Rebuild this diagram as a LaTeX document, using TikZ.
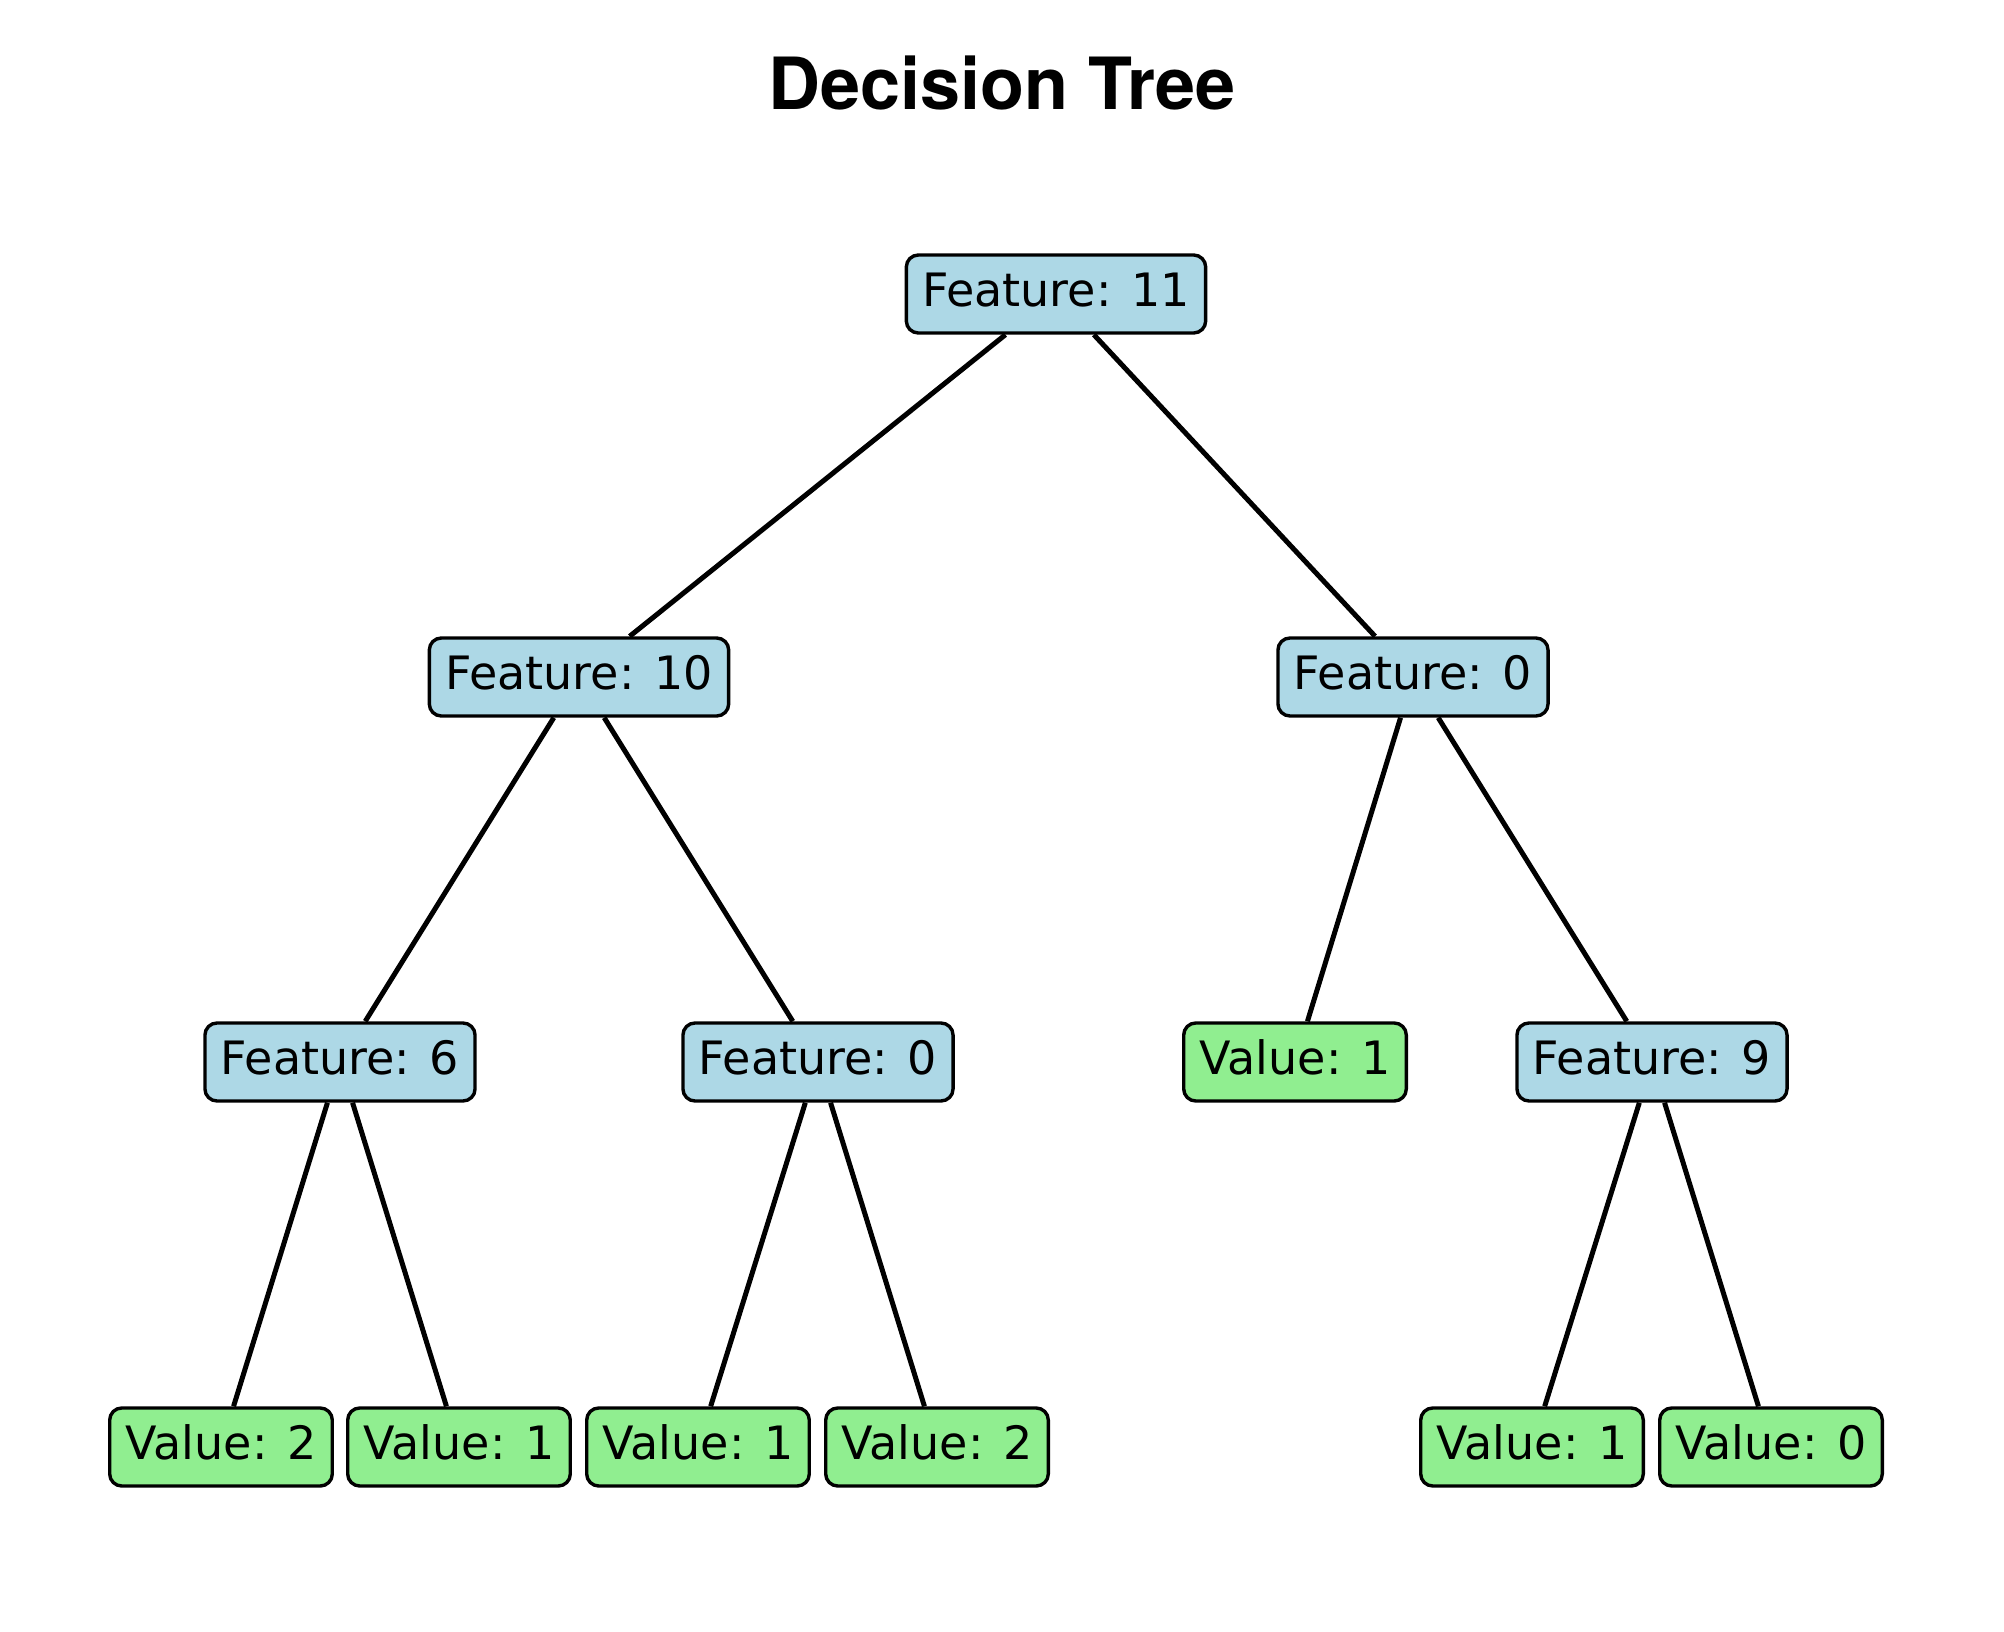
\documentclass[tikz,border=0pt]{standalone}
\usepackage{fontspec}
\setmainfont{DejaVu Sans}
\newfontfamily\titlefont{TeX Gyre Heros}
\usepackage{tikz}
\definecolor{lightblue}{HTML}{ADD8E6}
\definecolor{lightgreen}{HTML}{90EE90}
\tikzset{
  box/.style={draw=black, line width=1.7pt, rounded corners=6pt,
    minimum height=39pt, inner xsep=8pt, text height=17.7pt, text depth=5.3pt,
    font=\fontsize{23}{27}\selectfont},
  feat/.style={box, fill=lightblue},
  leaf/.style={box, fill=lightgreen},
  branch/.style={line width=2.5pt, black}
}

\begin{document}
\begin{tikzpicture}[x=0.5pt,y=-0.5pt]
  \useasboundingbox (0,0) rectangle (2004,1632); % page size
  \node[font=\titlefont\bfseries\fontsize{36}{40}\selectfont] (title) at (1002,83) {Decision Tree};
  % split nodes
  \node[feat] (root) at (1056,294) {Feature: 11};
  \node[feat] (fa) at (579,677) {Feature: 10};
  \node[feat] (fb) at (1413,677) {Feature: 0};
  \node[feat] (faa) at (340,1062) {Feature: 6};
  \node[feat] (fab) at (818,1062) {Feature: 0};
  \node[leaf] (vba) at (1295,1062) {Value: 1};
  \node[feat] (fbb) at (1652,1062) {Feature: 9};
  % leaves
  \foreach \x/\v/\n in {221/2/vaaa, 459/1/vaab, 698/1/vaba, 937/2/vabb, 1532/1/vbba, 1771/0/vbbb}
  \node[leaf] (\n) at (\x,1447) {Value: \v};
  % branches
  \draw[branch] (root) -- (fa);
  \draw[branch] (root) -- (fb);
  \draw[branch] (fa) -- (faa);
  \draw[branch] (fa) -- (fab);
  \draw[branch] (fb) -- (vba);
  \draw[branch] (fb) -- (fbb);
  \draw[branch] (faa) -- (vaaa);
  \draw[branch] (faa) -- (vaab);
  \draw[branch] (fab) -- (vaba);
  \draw[branch] (fab) -- (vabb);
  \draw[branch] (fbb) -- (vbba);
  \draw[branch] (fbb) -- (vbbb);
\end{tikzpicture}
\end{document}
